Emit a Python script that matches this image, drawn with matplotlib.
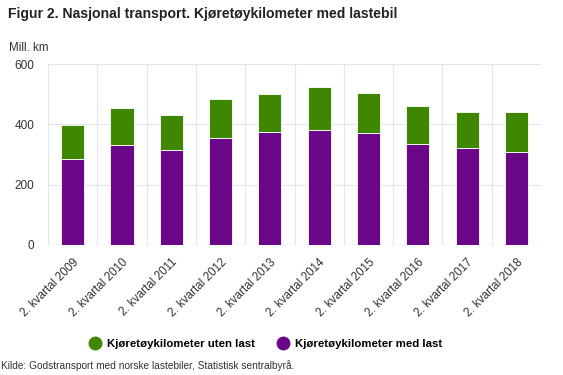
import matplotlib
matplotlib.use('Agg')
import matplotlib.pyplot as plt
import numpy as np
from matplotlib.lines import Line2D

plt.rcParams['font.family'] = ['Liberation Sans', 'DejaVu Sans']

labels = ['2. kvartal 2009', '2. kvartal 2010', '2. kvartal 2011', '2. kvartal 2012',
          '2. kvartal 2013', '2. kvartal 2014', '2. kvartal 2015', '2. kvartal 2016',
          '2. kvartal 2017', '2. kvartal 2018']
med_last = [284, 331, 316, 354, 373, 381, 370, 336, 322, 307]
uten_last = [114, 124, 115, 129, 128, 143, 135, 126, 120, 135]

green = '#3f8700'
purple = '#6a0788'
grid_col = '#e3e6ea'
text_col = '#333333'

fig = plt.figure(figsize=(5.63, 3.75), dpi=100)
ax = fig.add_axes([0.0853, 0.3467, 0.8757, 0.4826])

x = np.arange(len(labels))
ax.bar(x, med_last, width=0.47, color=purple, edgecolor='white', linewidth=0.6, zorder=3)
ax.bar(x, uten_last, bottom=med_last, width=0.47, color=green, edgecolor='white',
       linewidth=0.6, zorder=3)

ax.set_xlim(-0.5, len(labels) - 0.5)
ax.set_ylim(0, 600)
ax.set_yticks([0, 200, 400, 600])
ax.set_xticks(x)
ax.set_xticklabels(labels, rotation=45, ha='right', va='top', rotation_mode='anchor',
                   fontsize=8.4, color=text_col)
ax.set_xticks(np.arange(-0.5, len(labels)), minor=True)
ax.tick_params(axis='x', which='both', length=0, pad=8)
ax.tick_params(axis='y', length=0, labelsize=8.5, labelcolor=text_col, pad=10)
ax.grid(axis='y', color=grid_col, linewidth=0.8, zorder=0)
ax.grid(axis='x', which='minor', color=grid_col, linewidth=0.8, zorder=0)
for s in ax.spines.values():
    s.set_visible(False)
ax.axhline(0, color='#ccd6eb', linewidth=0.8, zorder=2)

fig.text(0.014, 0.962, 'Figur 2. Nasjonal transport. Kjøretøykilometer med lastebil',
         fontsize=10.1, fontweight='bold', color='#222222', va='center')
fig.text(0.016, 0.872, 'Mill. km', fontsize=8.4, color=text_col, va='center')

handles = [Line2D([], [], marker='o', linestyle='', markersize=9, color=green),
           Line2D([], [], marker='o', linestyle='', markersize=9, color=purple)]
fig.legend(handles, ['Kjøretøykilometer uten last', 'Kjøretøykilometer med last'],
           loc='center', bbox_to_anchor=(0.472, 0.083), ncol=2, frameon=False,
           prop={'weight': 'bold', 'size': 8.2}, handlelength=1.0,
           handletextpad=0.5, columnspacing=2.0)

fig.text(0.002, 0.025, 'Kilde: Godstransport med norske lastebiler, Statistisk sentralbyrå.',
         fontsize=7.3, color=text_col, va='center')

plt.savefig('out.png', dpi=100)
